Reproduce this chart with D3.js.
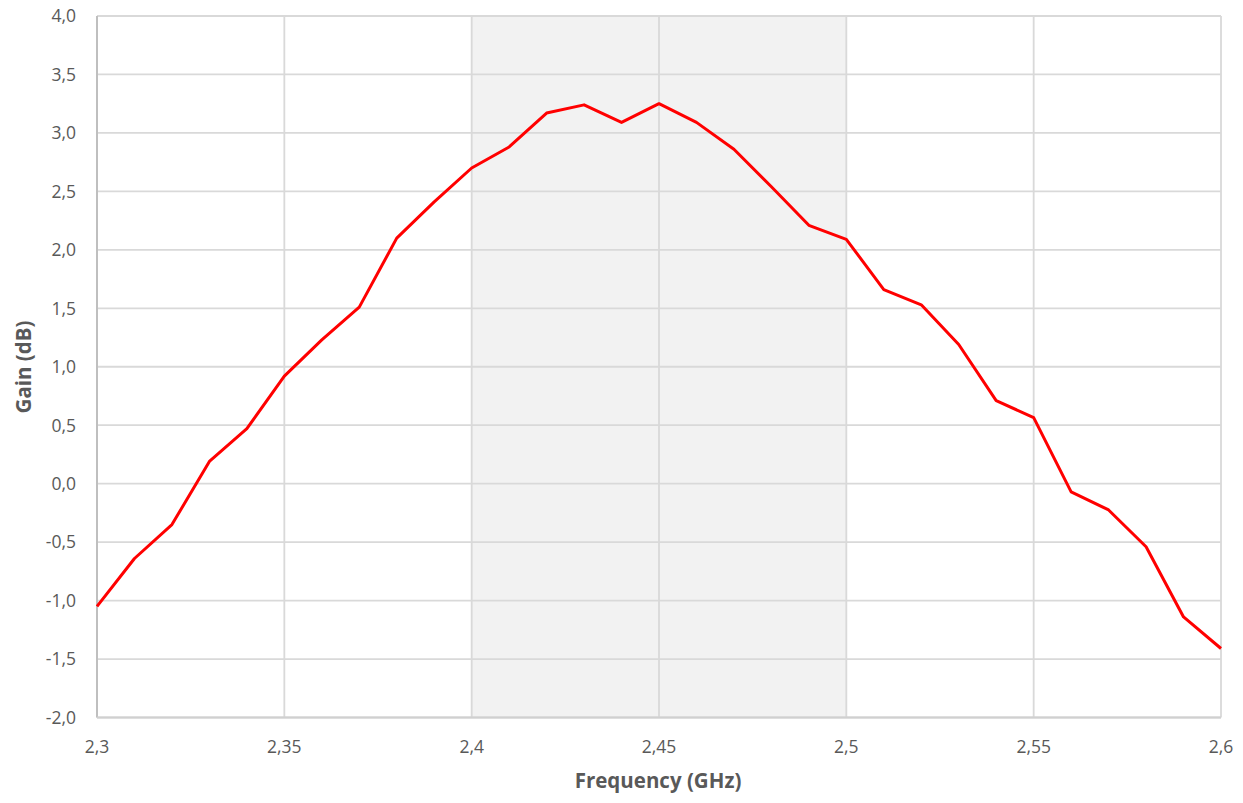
<!DOCTYPE html>
<html><head><meta charset="utf-8">
<script src="https://cdn.jsdelivr.net/npm/d3@7"></script>
<style>body{margin:0;background:#fff}svg{display:block}</style>
</head><body>
<svg id="chart" width="1243" height="803"></svg>
<script>
const freq = [2.30,2.31,2.32,2.33,2.34,2.35,2.36,2.37,2.38,2.39,2.40,2.41,2.42,2.43,2.44,2.45,2.46,2.47,2.48,2.49,2.50,2.51,2.52,2.53,2.54,2.55,2.56,2.57,2.58,2.59,2.60];
const gain = [-1.05,-0.64,-0.35,0.19,0.47,0.92,1.23,1.51,2.10,2.41,2.70,2.88,3.17,3.24,3.09,3.25,3.09,2.86,2.54,2.21,2.09,1.66,1.53,1.19,0.71,0.565,-0.07,-0.225,-0.54,-1.14,-1.41];
const xTicks = [2.3,2.35,2.4,2.45,2.5,2.55,2.6];
const xTickLabels = ["2,3","2,35","2,4","2,45","2,5","2,55","2,6"];
const yTicks = [-2,-1.5,-1,-0.5,0,0.5,1,1.5,2,2.5,3,3.5,4];
const band = [2.4, 2.5];

const svg = d3.select("#chart");
const m = {l:97, r:1221, t:16, b:717.5};
const x = d3.scaleLinear().domain([2.3,2.6]).range([m.l,m.r]);
const y = d3.scaleLinear().domain([-2,4]).range([m.b,m.t]);
const font = "'Open Sans', 'Noto Sans', sans-serif";

svg.append("rect").attr("x",x(band[0])).attr("y",m.t).attr("width",x(band[1])-x(band[0])).attr("height",m.b-m.t).attr("fill","#f2f2f2");

const g = svg.append("g");
g.selectAll(".hg").data(yTicks).join("line")
  .attr("x1",m.l).attr("x2",m.r).attr("y1",d=>y(d)).attr("y2",d=>y(d))
  .attr("stroke","#d9d9d9").attr("stroke-width",1.8);
g.selectAll(".vg").data(xTicks).join("line")
  .attr("y1",m.t).attr("y2",m.b).attr("x1",d=>x(d)).attr("x2",d=>x(d))
  .attr("stroke","#d9d9d9").attr("stroke-width",1.8);

svg.append("line").attr("x1",m.l).attr("x2",m.l).attr("y1",m.t).attr("y2",m.b).attr("stroke","#bfbfbf").attr("stroke-width",2);
svg.append("line").attr("x1",m.l).attr("x2",m.r).attr("y1",m.b).attr("y2",m.b).attr("stroke","#d0d0d0").attr("stroke-width",2);

const fmt = d => d3.format(".1f")(d).replace(".",",").replace("−","-");
svg.selectAll(".yl").data(yTicks).join("text")
  .attr("x",76).attr("y",d=>y(d)).attr("dy","0.36em").attr("text-anchor","end")
  .attr("font-family",font).attr("font-size",17.5).attr("fill","#595959").text(fmt);
svg.selectAll(".xl").data(xTicks).join("text")
  .attr("x",d=>x(d)).attr("y",753).attr("text-anchor","middle")
  .attr("font-family",font).attr("font-size",17.5).attr("fill","#595959")
  .text((d,i)=>xTickLabels[i]);

svg.append("text").attr("x",658).attr("y",788).attr("text-anchor","middle")
  .attr("font-family",font).attr("font-size",20.5).attr("font-weight","bold").attr("fill","#595959").text("Frequency (GHz)");
svg.append("text").attr("transform","translate(31,367) rotate(-90)").attr("text-anchor","middle")
  .attr("font-family",font).attr("font-size",20.5).attr("font-weight","bold").attr("fill","#595959").text("Gain (dB)");

const line = d3.line().x((d,i)=>x(freq[i])).y(d=>y(d));
svg.append("path").datum(gain).attr("d",line).attr("fill","none")
  .attr("stroke","#ff0000").attr("stroke-width",3).attr("stroke-linejoin","round");
</script>
</body></html>
